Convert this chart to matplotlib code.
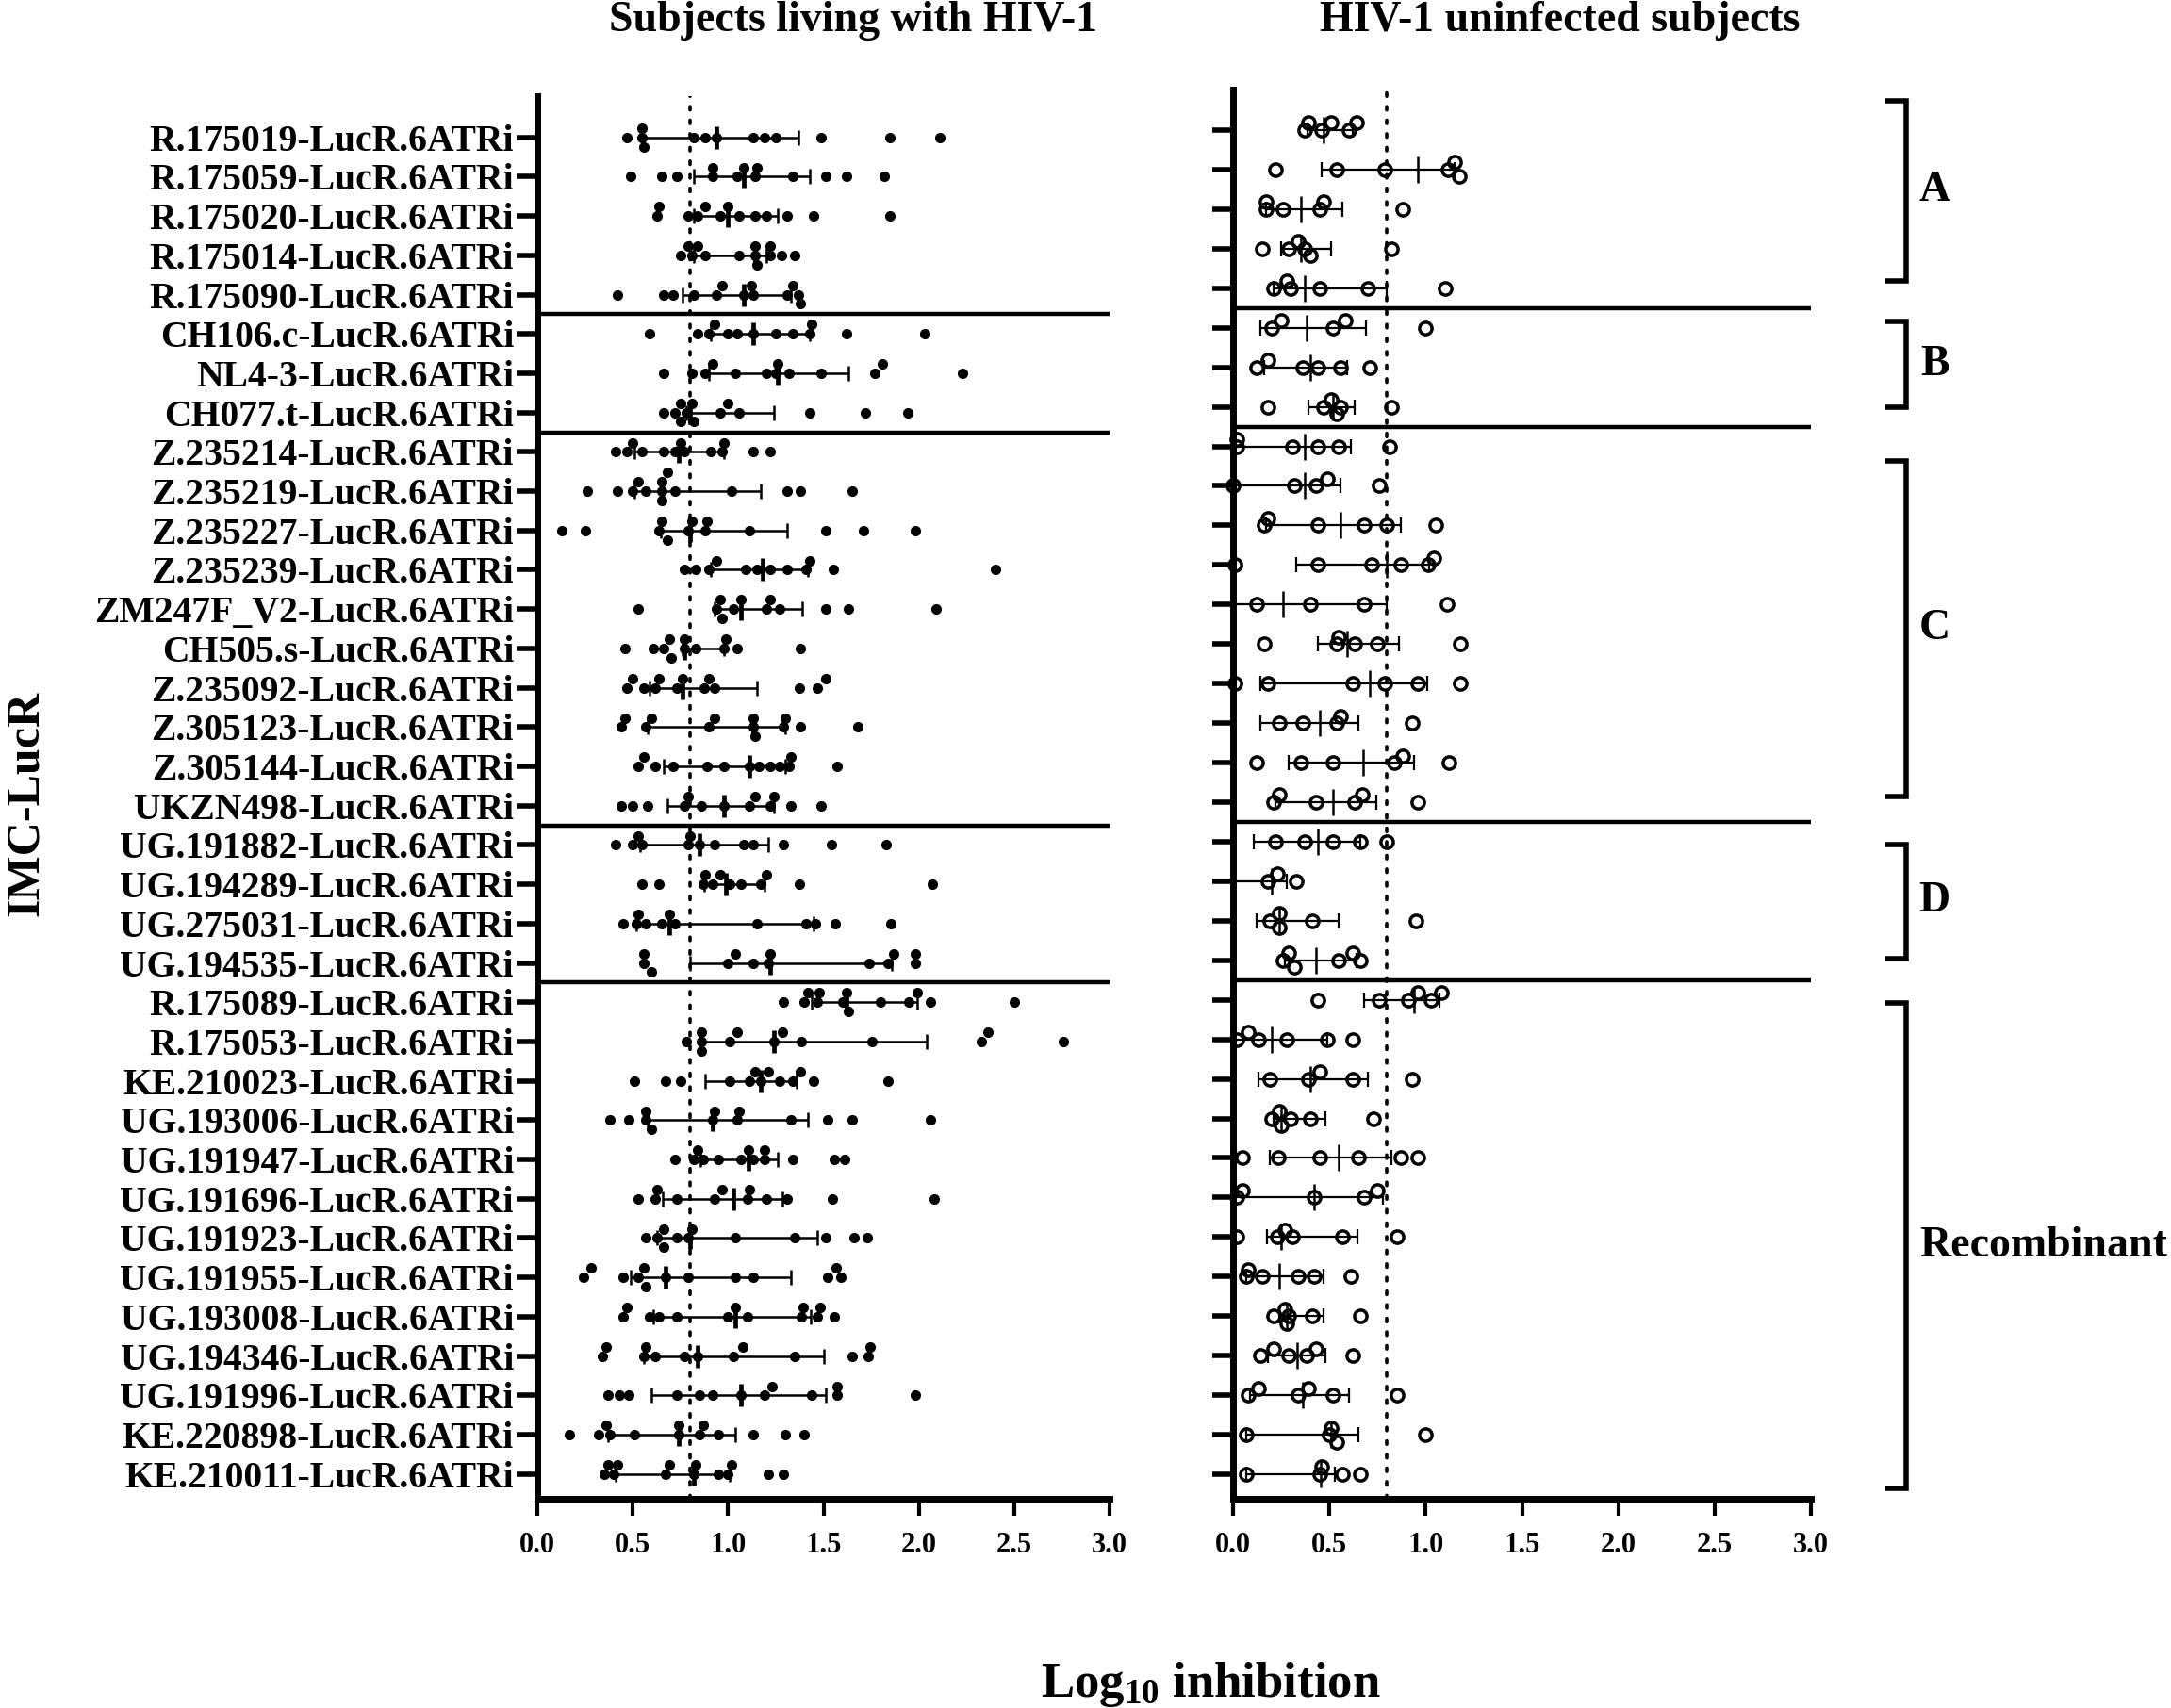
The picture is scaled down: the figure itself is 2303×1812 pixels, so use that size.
import matplotlib
matplotlib.use('Agg')
import matplotlib.pyplot as plt
import matplotlib.transforms as mtransforms
import numpy as np

plt.rcParams['font.family'] = ['Liberation Serif', 'DejaVu Serif']
plt.rcParams['font.weight'] = 'bold'
plt.rcParams['mathtext.fontset'] = 'custom'
plt.rcParams['mathtext.rm'] = 'Liberation Serif:bold'
plt.rcParams['mathtext.it'] = 'Liberation Serif:bold'
plt.rcParams['mathtext.bf'] = 'Liberation Serif:bold'

# ---- data ----
strains = ['R.175019-LucR.6ATRi', 'R.175059-LucR.6ATRi', 'R.175020-LucR.6ATRi',
           'R.175014-LucR.6ATRi', 'R.175090-LucR.6ATRi', 'CH106.c-LucR.6ATRi',
           'NL4-3-LucR.6ATRi', 'CH077.t-LucR.6ATRi', 'Z.235214-LucR.6ATRi',
           'Z.235219-LucR.6ATRi', 'Z.235227-LucR.6ATRi', 'Z.235239-LucR.6ATRi',
           'ZM247F_V2-LucR.6ATRi', 'CH505.s-LucR.6ATRi', 'Z.235092-LucR.6ATRi',
           'Z.305123-LucR.6ATRi', 'Z.305144-LucR.6ATRi', 'UKZN498-LucR.6ATRi',
           'UG.191882-LucR.6ATRi', 'UG.194289-LucR.6ATRi', 'UG.275031-LucR.6ATRi',
           'UG.194535-LucR.6ATRi', 'R.175089-LucR.6ATRi', 'R.175053-LucR.6ATRi',
           'KE.210023-LucR.6ATRi', 'UG.193006-LucR.6ATRi', 'UG.191947-LucR.6ATRi',
           'UG.191696-LucR.6ATRi', 'UG.191923-LucR.6ATRi', 'UG.191955-LucR.6ATRi',
           'UG.193008-LucR.6ATRi', 'UG.194346-LucR.6ATRi', 'UG.191996-LucR.6ATRi',
           'KE.220898-LucR.6ATRi', 'KE.210011-LucR.6ATRi']

# subjects living with HIV-1
hiv_vals = [
    [0.47, 0.55, 0.55, 0.56, 0.82, 0.88, 0.94, 1.13, 1.19, 1.25, 1.49, 1.85, 2.11],
    [0.49, 0.65, 0.73, 0.92, 0.92, 1.05, 1.08, 1.14, 1.15, 1.34, 1.51, 1.62, 1.82],
    [0.64, 0.63, 0.79, 0.84, 0.88, 0.96, 1.00, 1.06, 1.14, 1.20, 1.31, 1.45, 1.85],
    [0.75, 0.79, 0.84, 0.81, 0.88, 1.06, 1.14, 1.15, 1.14, 1.22, 1.22, 1.28, 1.35],
    [0.42, 0.66, 0.71, 0.82, 0.97, 0.94, 1.08, 1.13, 1.12, 1.31, 1.38, 1.37, 1.34],
    [0.59, 0.84, 0.93, 0.90, 1.00, 1.05, 1.13, 1.25, 1.34, 1.44, 1.43, 1.62, 2.03],
    [0.66, 0.81, 0.92, 0.88, 1.04, 1.20, 1.26, 1.25, 1.32, 1.49, 1.81, 1.77, 2.23],
    [0.66, 0.72, 0.75, 0.75, 0.78, 0.82, 0.81, 0.96, 1.00, 1.06, 1.43, 1.72, 1.94],
    [0.41, 0.47, 0.50, 0.55, 0.66, 0.72, 0.75, 0.77, 0.91, 0.98, 0.97, 1.13, 1.22],
    [0.26, 0.42, 0.50, 0.53, 0.57, 0.65, 0.65, 0.68, 0.65, 0.72, 1.02, 1.31, 1.38, 1.65],
    [0.13, 0.25, 0.64, 0.68, 0.65, 0.79, 0.81, 0.88, 0.89, 1.11, 1.51, 1.71, 1.98],
    [0.77, 0.83, 0.94, 0.90, 1.09, 1.15, 1.22, 1.31, 1.41, 1.43, 1.55, 2.40],
    [0.53, 0.96, 0.94, 0.97, 1.03, 1.07, 1.22, 1.20, 1.27, 1.51, 1.63, 2.09],
    [0.46, 0.61, 0.70, 0.66, 0.69, 0.77, 0.77, 0.83, 0.99, 0.98, 1.05, 1.38],
    [0.50, 0.47, 0.56, 0.62, 0.64, 0.73, 0.76, 0.90, 0.875, 0.93, 1.375, 1.51, 1.47],
    [0.46, 0.44, 0.60, 0.57, 0.93, 0.90, 1.13, 1.13, 1.14, 1.30, 1.29, 1.38, 1.68],
    [0.56, 0.62, 0.53, 0.71, 0.89, 0.98, 1.11, 1.16, 1.22, 1.27, 1.32, 1.33, 1.57],
    [0.44, 0.50, 0.58, 0.77, 0.79, 0.86, 0.98, 1.11, 1.14, 1.24, 1.22, 1.33, 1.49],
    [0.41, 0.50, 0.55, 0.53, 0.79, 0.80, 0.85, 0.93, 1.08, 1.13, 1.29, 1.54, 1.83],
    [0.55, 0.64, 0.88, 0.87, 0.96, 0.92, 1.01, 1.07, 1.17, 1.20, 1.375, 2.07],
    [0.45, 0.53, 0.52, 0.57, 0.65, 0.69, 0.72, 1.15, 1.41, 1.46, 1.56, 1.855],
    [0.56, 0.60, 0.56, 1.00, 1.04, 1.13, 1.22, 1.21, 1.74, 1.84, 1.87, 1.98, 1.98],
    [1.29, 1.40, 1.47, 1.42, 1.48, 1.60, 1.63, 1.62, 1.80, 1.945, 1.99, 2.06, 2.50],
    [0.78, 0.86, 0.86, 0.86, 1.01, 1.05, 1.24, 1.285, 1.385, 1.755, 2.33, 2.36, 2.76],
    [0.51, 0.67, 0.75, 1.01, 1.14, 1.21, 1.11, 1.17, 1.27, 1.38, 1.34, 1.45, 1.84],
    [0.38, 0.48, 0.57, 0.60, 0.57, 0.92, 0.93, 1.05, 1.06, 1.33, 1.52, 1.65, 2.06],
    [0.72, 0.82, 0.87, 0.84, 0.95, 1.105, 1.19, 1.07, 1.13, 1.19, 1.34, 1.555, 1.61],
    [0.53, 0.62, 0.63, 0.73, 0.93, 0.97, 1.10, 1.11, 1.20, 1.31, 1.545, 2.08],
    [0.57, 0.63, 0.66, 0.66, 0.73, 0.81, 0.79, 1.04, 1.35, 1.51, 1.66, 1.73],
    [0.28, 0.24, 0.45, 0.53, 0.56, 0.57, 0.67, 0.79, 1.04, 1.13, 1.52, 1.565, 1.59],
    [0.47, 0.45, 0.59, 0.64, 0.73, 1.00, 1.04, 1.10, 1.395, 1.385, 1.47, 1.485, 1.555],
    [0.36, 0.34, 0.57, 0.56, 0.62, 0.77, 0.84, 1.075, 1.03, 1.35, 1.65, 1.745, 1.735],
    [0.37, 0.43, 0.48, 0.73, 0.85, 0.92, 1.07, 1.19, 1.23, 1.44, 1.57, 1.57, 1.98],
    [0.17, 0.32, 0.38, 0.36, 0.51, 0.74, 0.74, 0.87, 0.85, 0.95, 1.13, 1.30, 1.40],
    [0.37, 0.42, 0.35, 0.40, 0.69, 0.67, 0.83, 0.82, 0.95, 1.02, 1.00, 1.21, 1.29],
]
hiv_med = [0.94, 1.08, 1.00, 1.14, 1.08, 1.13, 1.26, 0.80, 0.74, 0.65, 0.80, 1.18,
           1.07, 0.77, 0.76, 1.13, 1.11, 0.98, 0.85, 0.99, 0.69, 1.22, 1.62, 1.24,
           1.17, 0.92, 1.105, 1.03, 0.80, 0.67, 1.04, 0.84, 1.07, 0.74, 0.82]
hiv_lo = [0.55, 0.82, 0.82, 0.82, 0.76, 0.91, 0.90, 0.78, 0.51, 0.51, 0.645, 0.91,
          0.93, 0.76, 0.59, 0.58, 0.66, 0.68, 0.54, 0.875, 0.52, 0.80, 1.44, 0.86,
          0.88, 0.58, 0.855, 0.655, 0.63, 0.49, 0.61, 0.56, 0.60, 0.37, 0.41]
hiv_hi = [1.37, 1.43, 1.26, 1.20, 1.33, 1.43, 1.63, 1.24, 0.98, 1.17, 1.31, 1.42,
          1.39, 0.98, 1.15, 1.30, 1.30, 1.24, 1.21, 1.19, 1.45, 1.86, 1.99, 2.04,
          1.36, 1.42, 1.26, 1.285, 1.47, 1.33, 1.435, 1.50, 1.51, 1.04, 1.01]

# HIV-1 uninfected subjects
neg_vals = [
    [0.37, 0.39, 0.46, 0.51, 0.60, 0.64],
    [0.22, 0.54, 0.79, 1.115, 1.15, 1.175],
    [0.17, 0.17, 0.26, 0.45, 0.47, 0.88],
    [0.15, 0.29, 0.34, 0.37, 0.40, 0.82],
    [0.21, 0.28, 0.30, 0.45, 0.70, 1.10],
    [0.20, 0.25, 0.52, 0.58, 1.00],
    [0.12, 0.18, 0.36, 0.44, 0.56, 0.71],
    [0.18, 0.47, 0.51, 0.54, 0.56, 0.82],
    [0.02, 0.02, 0.31, 0.44, 0.55, 0.81],
    [0.0, 0.32, 0.43, 0.49, 0.76],
    [0.16, 0.18, 0.44, 0.68, 0.80, 1.05],
    [0.01, 0.44, 0.72, 0.87, 1.015, 1.04],
    [0.12, 0.40, 0.68, 1.11],
    [0.16, 0.54, 0.55, 0.63, 0.75, 1.18],
    [0.01, 0.18, 0.62, 0.79, 0.96, 1.18],
    [0.24, 0.36, 0.54, 0.56, 0.93],
    [0.12, 0.35, 0.52, 0.835, 0.88, 1.12],
    [0.21, 0.24, 0.43, 0.63, 0.67, 0.96],
    [0.22, 0.37, 0.52, 0.66, 0.80],
    [0.18, 0.23, 0.33],
    [0.19, 0.24, 0.24, 0.41, 0.95],
    [0.26, 0.29, 0.32, 0.55, 0.62, 0.66],
    [0.44, 0.76, 0.91, 0.96, 1.03, 1.08],
    [0.02, 0.08, 0.13, 0.28, 0.49, 0.62],
    [0.19, 0.39, 0.45, 0.62, 0.93],
    [0.20, 0.24, 0.25, 0.30, 0.40, 0.73],
    [0.05, 0.235, 0.45, 0.65, 0.87, 0.96],
    [0.02, 0.05, 0.42, 0.68, 0.75],
    [0.02, 0.23, 0.27, 0.31, 0.57, 0.85],
    [0.07, 0.08, 0.15, 0.34, 0.42, 0.61],
    [0.21, 0.27, 0.28, 0.29, 0.41, 0.66],
    [0.14, 0.21, 0.29, 0.38, 0.43, 0.62],
    [0.08, 0.13, 0.34, 0.39, 0.52, 0.85],
    [0.07, 0.50, 0.51, 0.54, 1.00],
    [0.07, 0.45, 0.46, 0.57, 0.66],
]
neg_med = [0.47, 0.96, 0.35, 0.35, 0.37, 0.38, 0.40, 0.52, 0.37, 0.37, 0.56, 0.80,
           0.26, 0.59, 0.71, 0.45, 0.675, 0.52, 0.44, 0.20, 0.24, 0.43, 0.94, 0.20,
           0.40, 0.25, 0.55, 0.42, 0.25, 0.24, 0.28, 0.335, 0.36, 0.51, 0.455]
neg_lo = [0.385, 0.46, 0.17, 0.25, 0.21, 0.14, 0.16, 0.39, 0.0, 0.0, 0.17, 0.33,
          0.0, 0.44, 0.14, 0.14, 0.29, 0.22, 0.11, 0.0, 0.12, 0.27, 0.68, 0.0,
          0.13, 0.21, 0.19, 0.0, 0.175, 0.07, 0.24, 0.18, 0.09, 0.07, 0.07]
neg_hi = [0.62, 1.15, 0.57, 0.51, 0.80, 0.69, 0.59, 0.63, 0.61, 0.56, 0.87, 1.02,
          0.80, 0.86, 1.01, 0.65, 0.94, 0.745, 0.66, 0.28, 0.55, 0.64, 1.07, 0.49,
          0.70, 0.48, 0.82, 0.78, 0.645, 0.47, 0.47, 0.48, 0.60, 0.65, 0.53]

cutoff = 0.8
group_names = ['A', 'B', 'C', 'D', 'Recombinant']
group_spans = [(-0.74, 3.81), (4.85, 7.01), (8.37, 16.86), (18.07, 20.96), (22.08, 34.36)]
separators = [4.5, 7.5, 17.5, 21.5]

W, H = 2303, 1812
rows = np.arange(len(strains))


def swarm(vals, thresh, step):
    # spread close points into lanes above / below the row
    vals = np.asarray(vals, float)
    offs = np.zeros(len(vals))
    lanes = {}
    for idx in np.argsort(vals, kind='stable'):
        for k in [0, -1, 1, -2, 2, -3, 3]:
            placed = lanes.setdefault(k, [])
            if all(abs(vals[idx] - p) >= thresh for p in placed):
                placed.append(vals[idx])
                offs[idx] = k * step
                break
    return offs


def px(x, y):
    return x / W, 1 - y / H


fig = plt.figure(figsize=(W / 100, H / 100), dpi=100)
ax1 = fig.add_axes([570 / W, 1 - 1590 / H, (1177 - 570) / W, (1590 - 102) / H])
ax2 = fig.add_axes([1308 / W, 1 - 1590 / H, (1921 - 1308) / W, (1590 - 95) / H])

for ax in (ax1, ax2):
    for s in ('top', 'right'):
        ax.spines[s].set_visible(False)
    for s in ('left', 'bottom'):
        ax.spines[s].set_linewidth(5)
    ax.set_xlim(0, 3.0)
    ax.set_xticks(np.arange(0, 3.01, 0.5))
    ax.set_xticklabels(['%.1f' % v for v in np.arange(0, 3.01, 0.5)], fontsize=22,
                       fontweight='bold')
    ax.tick_params(axis='x', length=13, width=3, pad=12)
    ax.tick_params(axis='y', length=16, width=4, pad=2)
    ax.set_yticks(rows)
    ax.axvline(cutoff, color='black', linestyle=(0, (1, 3)), linewidth=2.6,
               dash_capstyle='round', zorder=1)
    for s in separators:
        ax.axhline(s, color='black', linewidth=3.2, zorder=2)

ax1.set_ylim(34.63, -1.048)
ax2.set_ylim(34.62, -1.025)
ax1.set_yticklabels(strains, fontsize=28.5, fontweight='bold')
ax2.set_yticklabels([])

# left panel: filled dots
for i, vals in enumerate(hiv_vals):
    off = swarm(vals, 0.046, 0.235)
    ax1.plot(vals, i + off, 'o', color='black', markersize=7, zorder=3,
             clip_on=False)
ax1.errorbar(hiv_med, rows,
             xerr=[np.array(hiv_med) - np.array(hiv_lo), np.array(hiv_hi) - np.array(hiv_med)],
             fmt='none', ecolor='black', elinewidth=1.8, capsize=6, capthick=1.8, zorder=4)
ax1.plot(hiv_med, rows, '|', color='black', markersize=17, markeredgewidth=3.4, zorder=4)

# right panel: open circles
for i, vals in enumerate(neg_vals):
    off = swarm(vals, 0.072, 0.18)
    ax2.plot(vals, i + off, 'o', markerfacecolor='none', markeredgecolor='black',
             markersize=9.5, markeredgewidth=2.5, zorder=3, clip_on=False)
ax2.errorbar(neg_med, rows,
             xerr=[np.array(neg_med) - np.array(neg_lo), np.array(neg_hi) - np.array(neg_med)],
             fmt='none', ecolor='black', elinewidth=1.6, capsize=6, capthick=1.6, zorder=4)
ax2.plot(neg_med, rows, '|', color='black', markersize=20, markeredgewidth=1.8, zorder=4)

# group brackets on the right
tr = mtransforms.blended_transform_factory(fig.transFigure, ax2.transData)
bx, arm = 2022 / W, 2000 / W
for name, (y0, y1) in zip(group_names, group_spans):
    fig.add_artist(plt.Line2D([arm, bx, bx, arm], [y0, y0, y1, y1], transform=tr,
                              color='black', linewidth=4, solid_joinstyle='miter',
                              solid_capstyle='butt'))
    ym = (y0 + y1) / 2
    if name == 'Recombinant':
        fig.text(2036 / W, ym, name, transform=tr, fontsize=33, fontweight='bold',
                 ha='left', va='center')
    else:
        fig.text(2052 / W, ym, name, transform=tr, fontsize=33, fontweight='bold',
                 ha='center', va='center')

fig.text(*px(905, 22), 'Subjects living with HIV-1', fontsize=33, fontweight='bold',
         ha='center', va='center')
fig.text(*px(1655, 22), 'HIV-1 uninfected subjects', fontsize=33, fontweight='bold',
         ha='center', va='center')
fig.text(*px(28, 852), 'IMC-LucR', fontsize=36, fontweight='bold', rotation=90,
         ha='center', va='center')
fig.text(*px(1284, 1787), r'Log$_{\mathbf{10}}$ inhibition', fontsize=38,
         fontweight='bold', ha='center', va='center')

fig.savefig('out.png', dpi=100, facecolor='white')
plt.close(fig)
